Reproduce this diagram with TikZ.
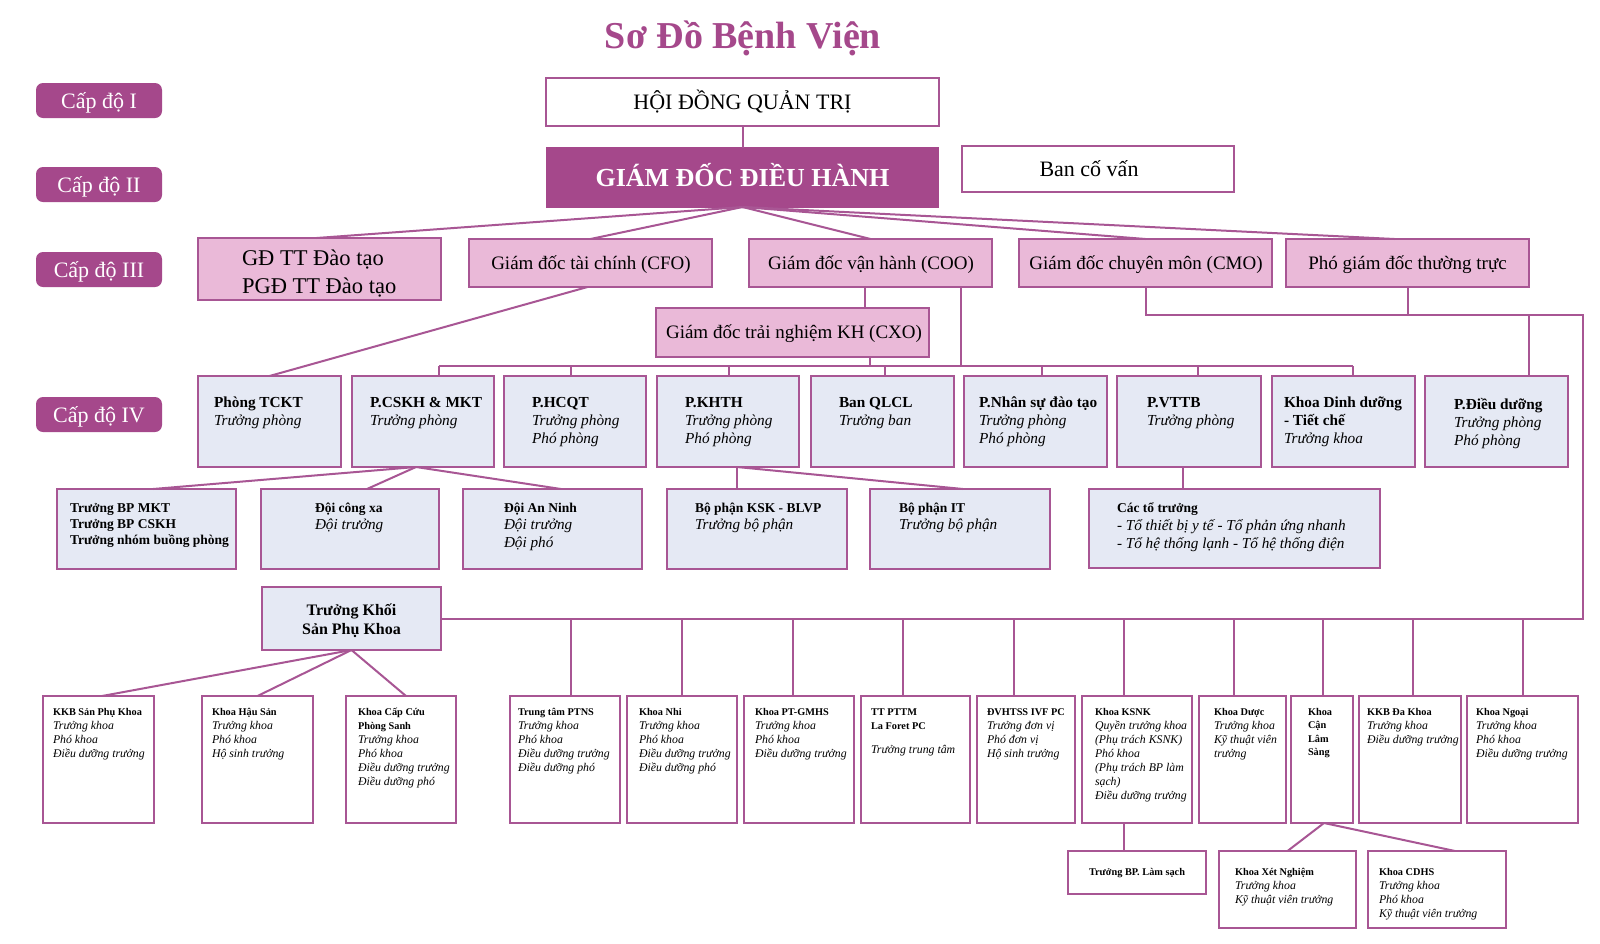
\documentclass[tikz,border=0pt]{standalone}
\usepackage{fontspec}
\setmainfont{Liberation Serif}
\usetikzlibrary{fit,calc}
\definecolor{dp}{RGB}{165,72,139}
\definecolor{lc}{RGB}{168,86,148}
\definecolor{pk}{RGB}{234,185,216}
\definecolor{lb}{RGB}{229,233,244}
\newcommand\VL[2]{\vtop{\baselineskip=#1pt\lineskiplimit=-100pt\lineskip=0pt\let\\\cr\halign{##\hfil\cr#2\crcr}}}
\newcommand\VC[2]{\vtop{\baselineskip=#1pt\lineskiplimit=-100pt\lineskip=0pt\let\\\cr\halign{\hfil##\hfil\cr#2\crcr}}}
\newcommand\Ba{\fontsize{15.3}{18}\selectfont\bfseries}
\newcommand\Ia{\fontsize{15.3}{18}\selectfont\itshape}
\newcommand\Bb{\fontsize{13.5}{17}\selectfont\bfseries}
\newcommand\Ib{\fontsize{15.2}{17}\selectfont\itshape}
\newcommand\Bc{\fontsize{10.3}{14}\selectfont\bfseries}
\newcommand\Ic{\fontsize{11.8}{14}\selectfont\itshape}
\tikzset{
 ln/.style={draw=lc, line width=2pt},
 bxs/.style={draw=lc, line width=2.3pt, inner sep=0pt, outer sep=0pt},
 badge/.style={fill=dp, rounded corners=7pt, inner sep=0pt, outer sep=0pt},
 badget/.style={inner sep=0pt, anchor=base, text=white, font=\fontsize{22}{26}\selectfont},
 lone/.style={bxs, fill=white},
 lonet/.style={inner sep=0pt, anchor=base, font=\fontsize{22}{26}\selectfont},
 ltwo/.style={bxs, draw=dp, fill=dp},
 ltwot/.style={inner sep=0pt, anchor=base, text=white, font=\fontsize{26}{30}\selectfont\bfseries},
 lthree/.style={bxs, fill=pk},
 lthreet/.style={inner sep=0pt, anchor=base, font=\fontsize{19}{23}\selectfont},
 lfour/.style={bxs, fill=lb},
 lsix/.style={bxs, fill=white},
 txt/.style={inner sep=0pt, outer sep=0pt, anchor=base west},
}
\begin{document}
\begin{tikzpicture}[x=1pt,y=-1pt]
\fill[white] (0,0) rectangle (1600,943);
\useasboundingbox (0,0) rectangle (1600,943);

\node[inner sep=0pt, anchor=base, text=dp, font=\fontsize{38}{44}\selectfont\bfseries] (title) at (743,48) {Sơ Đồ Bệnh Viện};

% badges
\node[badge, fit={(36,83)(162,118)}] (c1) {};
\node[badge, fit={(36,167)(162,202)}] (c2) {};
\node[badge, fit={(36,252)(162,287)}] (c3) {};
\node[badge, fit={(36,397)(162,432)}] (c4) {};
\node[badget] (c1-t) at (99,108) {Cấp độ I};
\node[badget] (c2-t) at (99,192) {Cấp độ II};
\node[badget] (c3-t) at (99,277) {Cấp độ III};
\node[badget] (c4-t) at (99,422) {Cấp độ IV};

% level I-II
\node[lone, fit={(546,78)(939,126)}] (hdqt) {};
\node[lonet] (hdqt-t) at (742.5,109.3) {HỘI ĐỒNG QUẢN TRỊ};
\node[ltwo, fit={(547,148)(938,207)}] (gddh) {};
\node[ltwot] (gddh-t) at (742.5,186) {GIÁM ĐỐC ĐIỀU HÀNH};
\node[lone, fit={(962,146)(1234,192)}] (bcv) {};
\node[lonet] (bcv-t) at (1089,176.3) {Ban cố vấn};

% level III
\node[lthree, fit={(198,238)(441,300)}] (gdtt) {};
\node[txt] (gdtt-t) at (242,265) {\fontsize{22.5}{28}\selectfont\VL{28}{GĐ TT Đào tạo\\PGĐ TT Đào tạo}};
\node[lthree, fit={(469,239)(712,287)}] (cfo) {};
\node[lthree, fit={(749,239)(992,287)}] (coo) {};
\node[lthree, fit={(1019,239)(1272,287)}] (cmo) {};
\node[lthree, fit={(1286,239)(1529,287)}] (pgd) {};
\node[lthree, fit={(656,308)(929,357)}] (cxo) {};
\node[lthreet] (cfo-t) at (591,269.3) {Giám đốc tài chính (CFO)};
\node[lthreet] (coo-t) at (871,269.3) {Giám đốc vận hành (COO)};
\node[lthreet] (cmo-t) at (1146,269.3) {Giám đốc chuyên môn (CMO)};
\node[lthreet] (pgd-t) at (1407.5,269.3) {Phó giám đốc thường trực};
\node[lthreet] (cxo-t) at (794,338.8) {Giám đốc trải nghiệm KH (CXO)};

% level IV
\node[lfour, fit={(198,376)(341,467)}] (tckt) {};
\node[lfour, fit={(352,376)(494,467)}] (cskh) {};
\node[lfour, fit={(504,376)(646,467)}] (hcqt) {};
\node[lfour, fit={(657,376)(799,467)}] (khth) {};
\node[lfour, fit={(811,376)(954,467)}] (qlcl) {};
\node[lfour, fit={(964,376)(1107,467)}] (nhansu) {};
\node[lfour, fit={(1117,376)(1261,467)}] (vttb) {};
\node[lfour, fit={(1272,376)(1415,467)}] (dinhduong) {};
\node[lfour, fit={(1425,376)(1568,467)}] (dieuduong) {};
\node[txt] (tckt-t) at (214,407) {\VL{18}{\Ba Phòng TCKT\\\Ia Trưởng phòng}};
\node[txt] (cskh-t) at (370,407) {\VL{18}{\Ba P.CSKH \& MKT\\\Ia Trưởng phòng}};
\node[txt] (hcqt-t) at (532,407) {\VL{18}{\Ba P.HCQT\\\Ia Trưởng phòng\\\Ia Phó phòng}};
\node[txt] (khth-t) at (685,407) {\VL{18}{\Ba P.KHTH\\\Ia Trưởng phòng\\\Ia Phó phòng}};
\node[txt] (qlcl-t) at (839,407) {\VL{18}{\Ba Ban QLCL\\\Ia Trưởng ban}};
\node[txt] (nhansu-t) at (979,407) {\VL{18}{\Ba P.Nhân sự đào tạo\\\Ia Trưởng phòng\\\Ia Phó phòng}};
\node[txt] (vttb-t) at (1147,407) {\VL{18}{\Ba P.VTTB\\\Ia Trưởng phòng}};
\node[txt] (dinhduong-t) at (1284,407) {\VL{18}{\Ba Khoa Dinh dưỡng\\\Ba - Tiết chế\\\Ia Trưởng khoa}};
\node[txt] (dieuduong-t) at (1454,409) {\VL{18}{\Ba P.Điều dưỡng\\\Ia Trưởng phòng\\\Ia Phó phòng}};

% level V
\node[lfour, fit={(57,489)(236,569)}] (mkt) {};
\node[lfour, fit={(261,489)(439,569)}] (congxa) {};
\node[lfour, fit={(463,489)(642,569)}] (anninh) {};
\node[lfour, fit={(667,489)(847,569)}] (ksk) {};
\node[lfour, fit={(870,489)(1050,569)}] (it) {};
\node[lfour, fit={(1089,489)(1380,568)}] (totruong) {};
\node[txt] (mkt-t) at (70,512) {\VL{16}{\Bb Trưởng BP MKT\\\Bb Trưởng BP CSKH\\\Bb Trưởng nhóm buồng phòng}};
\node[txt] (congxa-t) at (315,512) {\VL{17.5}{\Bb Đội công xa\\\Ib Đội trưởng}};
\node[txt] (anninh-t) at (504,512) {\VL{17.5}{\Bb Đội An Ninh\\\Ib Đội trưởng\\\Ib Đội phó}};
\node[txt] (ksk-t) at (695,512) {\VL{17.5}{\Bb Bộ phận KSK - BLVP\\\Ib Trưởng bộ phận}};
\node[txt] (it-t) at (899,512) {\VL{17.5}{\Bb Bộ phận IT\\\Ib Trưởng bộ phận}};
\node[txt] (totruong-t) at (1117,512) {\VL{18}{\Bb Các tổ trưởng\\\Ib - Tổ thiết bị y tế - Tổ phản ứng nhanh\\\Ib - Tổ hệ thống lạnh - Tổ hệ thống điện}};

% Truong khoi
\node[lfour, fit={(262,587)(441,650)}] (truongkhoi) {};
\node[inner sep=0pt, anchor=base] (truongkhoi-t) at (351.5,615) {\fontsize{16}{19}\selectfont\bfseries\VC{19}{Trưởng Khối\\Sản Phụ Khoa}};

% bottom row
\node[lsix, fit={(43,696)(154,823)}] (kkbsan) {};
\node[lsix, fit={(202,696)(313,823)}] (hausan) {};
\node[lsix, fit={(346,696)(456,823)}] (capcuu) {};
\node[lsix, fit={(510,696)(620,823)}] (ptns) {};
\node[lsix, fit={(627,696)(737,823)}] (nhi) {};
\node[lsix, fit={(744,696)(854,823)}] (gmhs) {};
\node[lsix, fit={(861,696)(970,823)}] (pttm) {};
\node[lsix, fit={(977,696)(1075,823)}] (dvhtss) {};
\node[lsix, fit={(1082,696)(1192,823)}] (ksnk) {};
\node[lsix, fit={(1199,696)(1286,823)}] (duoc) {};
\node[lsix, fit={(1291,696)(1353,823)}] (cls) {};
\node[lsix, fit={(1359,696)(1461,823)}] (kkbda) {};
\node[lsix, fit={(1467,696)(1578,823)}] (ngoai) {};
\node[txt] (kkbsan-t) at (53,715) {\VL{14}{\Bc KKB Sản Phụ Khoa\\\Ic Trưởng khoa\\\Ic Phó khoa\\\Ic Điều dưỡng trưởng}};
\node[txt] (hausan-t) at (212,715) {\VL{14}{\Bc Khoa Hậu Sản\\\Ic Trưởng khoa\\\Ic Phó khoa\\\Ic Hộ sinh trưởng}};
\node[txt] (capcuu-t) at (358,715) {\VL{14}{\Bc Khoa Cấp Cứu\\\Bc Phòng Sanh\\\Ic Trưởng khoa\\\Ic Phó khoa\\\Ic Điều dưỡng trưởng\\\Ic Điều dưỡng phó}};
\node[txt] (ptns-t) at (518,715) {\VL{14}{\Bc Trung tâm PTNS\\\Ic Trưởng khoa\\\Ic Phó khoa\\\Ic Điều dưỡng trưởng\\\Ic Điều dưỡng phó}};
\node[txt] (nhi-t) at (639,715) {\VL{14}{\Bc Khoa Nhi\\\Ic Trưởng khoa\\\Ic Phó khoa\\\Ic Điều dưỡng trưởng\\\Ic Điều dưỡng phó}};
\node[txt] (gmhs-t) at (755,715) {\VL{14}{\Bc Khoa PT-GMHS\\\Ic Trưởng khoa\\\Ic Phó khoa\\\Ic Điều dưỡng trưởng}};
\node[txt] (pttm-t) at (871,715) {\VL{14}{\Bc TT PTTM\\\Bc La Foret PC\\\noalign{\kern-4pt}\\\Ic Trưởng trung tâm}};
\node[txt] (dvhtss-t) at (987,715) {\VL{14}{\Bc ĐVHTSS IVF PC\\\Ic Trưởng đơn vị\\\Ic Phó đơn vị\\\Ic Hộ sinh trưởng}};
\node[txt] (ksnk-t) at (1095,715) {\VL{14}{\Bc Khoa KSNK\\\Ic Quyền trưởng khoa\\\Ic (Phụ trách KSNK)\\\Ic Phó khoa\\\Ic (Phụ trách BP làm\\\Ic sạch)\\\Ic Điều dưỡng trưởng}};
\node[txt] (duoc-t) at (1214,715) {\VL{14}{\Bc Khoa Dược\\\Ic Trưởng khoa\\\Ic Kỹ thuật viên\\\Ic trưởng}};
\node[txt] (cls-t) at (1308,715) {\VL{13.5}{\Bc Khoa\\\Bc Cận\\\Bc Lâm\\\Bc Sàng}};
\node[txt] (kkbda-t) at (1367,715) {\VL{14}{\Bc KKB Đa Khoa\\\Ic Trưởng khoa\\\Ic Điều dưỡng trưởng}};
\node[txt] (ngoai-t) at (1476,715) {\VL{14}{\Bc Khoa Ngoại\\\Ic Trưởng khoa\\\Ic Phó khoa\\\Ic Điều dưỡng trưởng}};

% third row
\node[lsix, fit={(1068,851)(1206,894)}] (lamsach) {};
\node[lsix, fit={(1219,851)(1356,928)}] (xetnghiem) {};
\node[lsix, fit={(1368,851)(1506,928)}] (cdhs) {};
\node[inner sep=0pt, anchor=base] (lamsach-t) at (1137,875) {\Bc Trưởng BP. Làm sạch};
\node[txt] (xetnghiem-t) at (1235,875) {\VL{14}{\Bc Khoa Xét Nghiệm\\\Ic Trưởng khoa\\\Ic Kỹ thuật viên trưởng}};
\node[txt] (cdhs-t) at (1379,875) {\VL{14}{\Bc Khoa CDHS\\\Ic Trưởng khoa\\\Ic Phó khoa\\\Ic Kỹ thuật viên trưởng}};

% bus coordinates
\coordinate (bfour) at (0,366);
\coordinate (bcm) at (0,315);
\coordinate (rgt) at (1583,0);
\coordinate (bfive) at (truongkhoi.east);

% connectors top
\draw[ln] (hdqt.south) -- (gddh.north);
\draw[ln] (gddh.south) -- ([xshift=-3pt]gdtt.north);
\draw[ln] (gddh.south) -- (cfo.north);
\draw[ln] (gddh.south) -- (coo.north);
\draw[ln] (gddh.south) -- (cmo.north);
\draw[ln] (gddh.south) -- ([xshift=-13pt]pgd.north);

\coordinate (cooa) at ([xshift=-5.5pt]coo.south);
\coordinate (coob) at ([xshift=90.5pt]coo.south);
\coordinate (cxob) at ([xshift=77.5pt]cxo.south);
\draw[ln] (cooa) -- (cooa |- cxo.north);
\draw[ln] (coob) -- (coob |- bfour);
\draw[ln] (cxob) -- (cxob |- bfour);

\foreach \n/\s in {cskh/16, hcqt/-4, khth/1, qlcl/2.5, nhansu/6.5, vttb/9, dinhduong/9.5}{
  \coordinate (\n-in) at ([xshift=\s pt]\n.north);
  \draw[ln] (\n-in) -- (\n-in |- bfour);
}
\draw[ln] (cskh-in |- bfour) -- (dinhduong-in |- bfour);

\draw[ln] ([xshift=-3pt]cfo.south) -- (tckt.north);

% CMO / PGD bus and right trunk
\draw[ln] (cmo.south) |- (bcm -| rgt) -- (rgt |- bfive) -- (truongkhoi.east);
\draw[ln] (pgd.south) -- (pgd.south |- bcm);
\coordinate (ddin) at ([xshift=32.5pt]dieuduong.north);
\draw[ln] (ddin) -- (ddin |- bcm);

% level V connectors
\coordinate (cskhout) at ([xshift=-7pt]cskh.south);
\draw[ln] (cskhout) -- ([xshift=6.5pt]mkt.north);
\draw[ln] (cskhout) -- ([xshift=17pt]congxa.north);
\draw[ln] (cskhout) -- ([xshift=8.5pt]anninh.north);
\coordinate (khthout) at ([xshift=9pt]khth.south);
\draw[ln] (khthout) -- (khthout |- ksk.north);
\draw[ln] (khthout) -- ([xshift=3pt]it.north);
\coordinate (vttbout) at ([xshift=-6pt]vttb.south);
\draw[ln] (vttbout) -- (vttbout |- totruong.north);

% truong khoi
\draw[ln] (truongkhoi.south) -- ([xshift=3.5pt]kkbsan.north);
\draw[ln] (truongkhoi.south) -- (hausan.north);
\draw[ln] (truongkhoi.south) -- ([xshift=5pt]capcuu.north);

% bottom drops
\foreach \n/\s in {ptns/6, nhi/0, gmhs/-6, pttm/-12.5, dvhtss/-12, ksnk/-13, duoc/-8.5, cls/1, kkbda/3, ngoai/0.5}{
  \coordinate (\n-in) at ([xshift=\s pt]\n.north);
  \draw[ln] (\n-in) -- (\n-in |- bfive);
}

% third row
\coordinate (ksnkout) at ([xshift=-13pt]ksnk.south);
\draw[ln] (ksnkout) -- (ksnkout |- lamsach.north);
\coordinate (clsout) at ([xshift=2pt]cls.south);
\draw[ln] (clsout) -- (xetnghiem.north);
\draw[ln] (clsout) -- ([xshift=18pt]cdhs.north);
\end{tikzpicture}
\end{document}
